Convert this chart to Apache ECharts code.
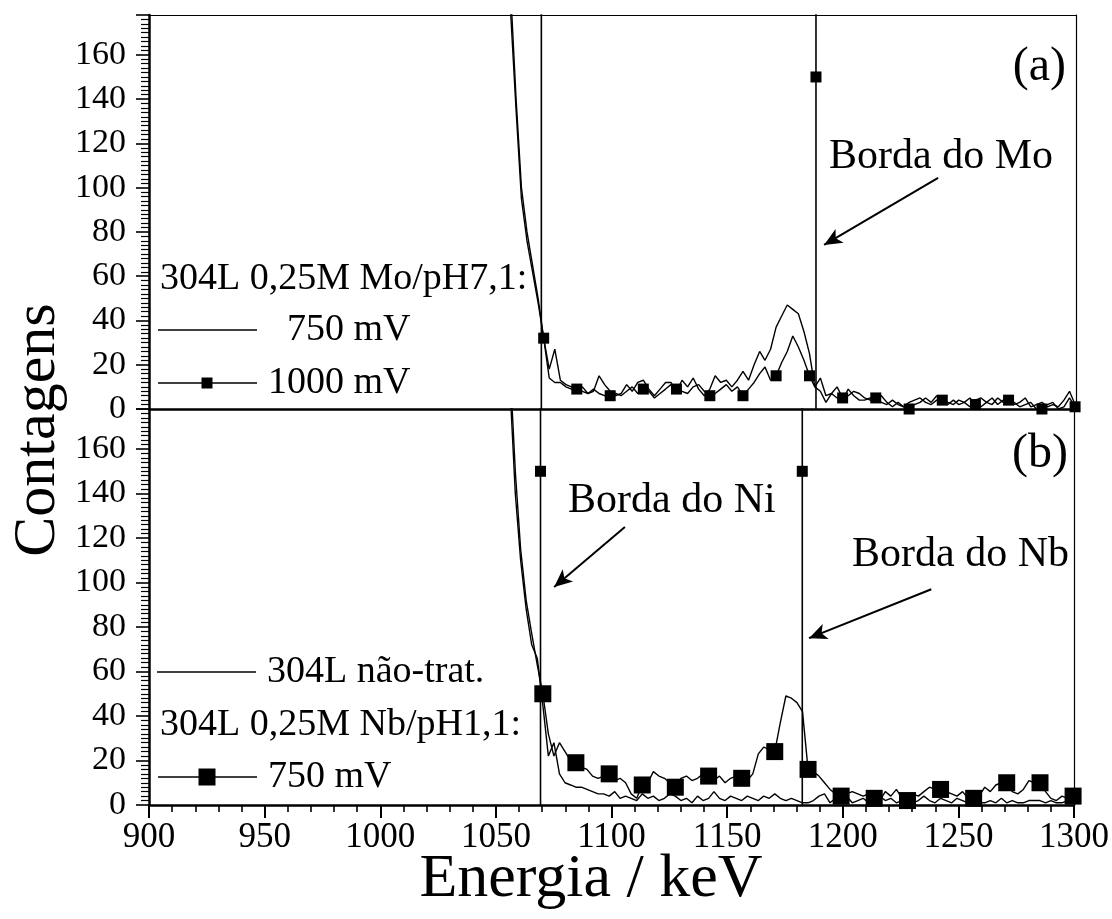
<!DOCTYPE html>
<html>
<head>
<meta charset="utf-8">
<title>Contagens x Energia</title>
<script src="https://cdn.jsdelivr.net/npm/echarts@6/dist/echarts.min.js"></script>
<style>
  html, body { margin: 0; padding: 0; background: #fff; }
  #chart { width: 1112px; height: 919px; }
</style>
</head>
<body>
<div id="chart"></div>
<script>
// Channel energies (keV) of the spectra
const energies = [
  1051.2, 1053.6, 1056.0, 1058.4, 1060.7, 1063.1, 1065.5, 1067.9, 1070.3, 1072.7,
  1075.1, 1077.5, 1079.9, 1082.3, 1084.6, 1087.0, 1089.4, 1091.8, 1094.2, 1096.6,
  1099.0, 1101.4, 1103.7, 1106.1, 1108.5, 1110.9, 1113.3, 1115.7, 1118.1, 1120.5,
  1122.9, 1125.2, 1127.6, 1130.0, 1132.4, 1134.8, 1137.2, 1139.6, 1142.0, 1144.3,
  1146.7, 1149.1, 1151.5, 1153.9, 1156.3, 1158.7, 1161.1, 1163.5, 1165.8, 1168.2,
  1170.6, 1173.0, 1175.4, 1177.8, 1180.2, 1182.6, 1185.0, 1187.3, 1189.7, 1192.1,
  1194.5, 1196.9, 1199.3, 1201.7, 1204.1, 1206.5, 1208.8, 1211.2, 1213.6, 1216.0,
  1218.4, 1220.8, 1223.2, 1225.6, 1228.0, 1230.3, 1232.7, 1235.1, 1237.5, 1239.9,
  1242.3, 1244.7, 1247.1, 1249.4, 1251.8, 1254.2, 1256.6, 1259.0, 1261.4, 1263.8,
  1266.2, 1268.6, 1270.9, 1273.3, 1275.7, 1278.1, 1280.5, 1282.9, 1285.3, 1287.7,
  1290.0, 1292.4, 1294.8, 1297.2, 1299.6
];

// (a) 304L 0,25M Mo/pH7,1 - 750 mV
const mo750 = [
  400, 300, 190, 140, 100, 80, 65, 50, 32, 18,
  27, 13, 11, 10, 8, 10, 7, 8, 15, 11,
  8, 6, 7, 11, 8, 12, 13, 9, 6, 9,
  12, 12, 8, 13, 10, 14, 9, 6, 9, 15,
  12, 13, 10, 13, 17, 13, 20, 26, 22, 27,
  37, 42, 47, 45, 43, 35, 25, 10, 8, 3,
  7, 5, 4, 9, 6, 4, 4, 5, 5, 6,
  3, 1, 3, 1, 3, 4, 5, 3, 2, 4,
  3, 2, 4, 2, 3, 1, 4, 5, 3, 5,
  2, 4, 3, 2, 3, 5, 1, 2, 3, 1,
  2, 1, 4, 8, 2
];

// (a) 304L 0,25M Mo/pH7,1 - 1000 mV
const mo1000 = [
  400, 280, 180, 135, 95, 76, 62, 48, 32, 14,
  12, 12, 10, 9, 9, 8, 7, 9, 7, 6,
  6, 7, 6, 8, 10, 7, 9, 8, 5, 7,
  9, 11, 9, 8, 7, 10, 11, 8, 6, 7,
  9, 11, 8, 10, 6, 9, 12, 16, 19, 13,
  15, 21, 26, 33, 28, 22, 15, 10, 14, 6,
  7, 10, 5, 6, 8, 7, 5, 4, 5, 3,
  2, 4, 2, 1, 0, 2, 3, 5, 3, 6,
  4, 3, 2, 4, 3, 5, 2, 1, 3, 2,
  5, 3, 4, 3, 1, 2, 3, 0, 0, 2,
  3, 0, 1, 5, 1
];

// (b) 304L não-tratado
const nbUntreated = [
  400, 300, 190, 140, 110, 88, 72, 66, 45, 22,
  28, 14, 10, 9, 8, 8, 7, 6, 5, 5,
  4, 6, 3, 4, 3, 2, 5, 3, 4, 2,
  3, 5, 4, 2, 3, 1, 4, 2, 3, 6,
  3, 2, 4, 3, 2, 4, 3, 2, 4, 3,
  5, 3, 2, 3, 2, 1, 1, 2, 4, 5,
  1, 3, 2, 4, 1, 2, 3, 1, 2, 4,
  2, 3, 1, 2, 3, 1, 2, 4, 2, 1,
  3, 2, 1, 3, 2, 1, 2, 1, 1, 2,
  1, 3, 1, 2, 1, 1, 2, 2, 2, 1,
  2, 1, 1, 2, 3
];

// (b) 304L 0,25M Nb/pH1,1 - 750 mV
const nb750 = [
  400, 330, 200, 150, 115, 92, 77, 63, 50, 32,
  22, 28, 24, 20, 19, 17, 16, 13, 12, 13,
  14, 11, 12, 10, 5, 3, 9, 10, 15, 13,
  12, 10, 8, 12, 13, 11, 12, 14, 13, 11,
  13, 10, 12, 13, 12, 11, 14, 23, 26, 25,
  24, 37, 49, 48, 46, 42, 16, 15, 13, 10,
  7, 5, 4, 5, 6, 5, 4, 5, 3, 2,
  6, 4, 7, 3, 2, 5, 4, 6, 8, 7,
  7, 6, 5, 4, 6, 3, 3, 4, 8, 6,
  9, 10, 10, 6, 5, 7, 11, 10, 10, 6,
  3, 2, 4, 3, 4
];

// Absorption edges (keV) and the count level where each edge line is marked
const edgeNames = ['Mo', 'Ni', 'Nb'];
const edgeEnergies = [1187.8, 1069.3, 1182.5];
const edgeMarkCount = [150, 150, 150];

// Axis ranges and ticks
const energyRange = [900, 1300];
const energyStep = 50;
const countRange = [0, 178];
const countStep = 20;

const FONT = '"Liberation Serif", "Times New Roman", serif';
const INK = '#000';

// Symbols are shown on every sixth channel
function markedLine(vals, every, offset) {
  return energies.map((e, i) => ({
    value: [e, vals[i]],
    symbol: (i % every === offset) ? 'rect' : 'none'
  }));
}
function plainLine(vals) {
  return energies.map((e, i) => [e, vals[i]]);
}
function edgeLine(k, withMark) {
  const e = edgeEnergies[k];
  const pts = [{ value: [e, 0], symbol: 'none' }];
  if (withMark) pts.push({ value: [e, edgeMarkCount[k]], symbol: 'rect' });
  pts.push({ value: [e, 1000], symbol: 'none' });
  return pts;
}

const baseLine = {
  type: 'line',
  silent: true,
  clip: true,
  showSymbol: true,
  showAllSymbol: true,
  symbol: 'rect',
  lineStyle: { color: INK, width: 1.4 },
  itemStyle: { color: INK },
  emphasis: { disabled: true },
  animation: false
};

function arrowMark(from, to) {
  return {
    silent: true,
    symbol: ['none', 'arrow'],
    symbolSize: [12, 18],
    lineStyle: { color: INK, width: 2, type: 'solid' },
    label: { show: false },
    emphasis: { disabled: true },
    animation: false,
    data: [[{ coord: from }, { coord: to }]]
  };
}

function xAxisFrame(grid, position, width) {
  return {
    gridIndex: grid, type: 'value', position: position,
    min: energyRange[0], max: energyRange[1], interval: energyStep,
    axisLine: { show: true, onZero: false, lineStyle: { color: INK, width: width } },
    axisTick: { show: false }, axisLabel: { show: false }, splitLine: { show: false }
  };
}
function yAxisLeft(grid) {
  return {
    gridIndex: grid, type: 'value', position: 'left',
    min: countRange[0], max: countRange[1], interval: countStep,
    axisLine: { show: true, onZero: false, lineStyle: { color: INK, width: 2.5 } },
    axisTick: { show: true, inside: false, length: 13, lineStyle: { color: INK, width: 1.6 } },
    minorTick: { show: true, splitNumber: 10, length: 8, lineStyle: { color: INK, width: 1.2 } },
    axisLabel: { show: true, margin: 23, color: INK, fontFamily: FONT, fontSize: 34, showMaxLabel: false },
    splitLine: { show: false }
  };
}
function yAxisRight(grid) {
  return {
    gridIndex: grid, type: 'value', position: 'right',
    min: countRange[0], max: countRange[1], interval: countStep,
    axisLine: { show: true, onZero: false, lineStyle: { color: INK, width: 1.2 } },
    axisTick: { show: false }, axisLabel: { show: false }, splitLine: { show: false }
  };
}

function label(text, x, y, size, align) {
  return {
    type: 'text', silent: true, z: 100,
    style: {
      text: text, x: x, y: y, fill: INK,
      font: size + 'px ' + FONT,
      textAlign: align || 'left', textVerticalAlign: 'middle'
    }
  };
}
function sampleLine(x1, x2, y) {
  return { type: 'line', silent: true, z: 100,
    shape: { x1: x1, y1: y, x2: x2, y2: y },
    style: { stroke: INK, lineWidth: 1.4 } };
}
function sampleSquare(cx, cy, s) {
  return { type: 'rect', silent: true, z: 100,
    shape: { x: cx - s / 2, y: cy - s / 2, width: s, height: s },
    style: { fill: INK } };
}

const chart = echarts.init(document.getElementById('chart'), null, { renderer: 'canvas' });

chart.setOption({
  animation: false,
  backgroundColor: '#fff',
  grid: [
    { left: 149, top: 15, width: 927, height: 394 },
    { left: 149, top: 409, width: 927, height: 396 }
  ],
  xAxis: [
    xAxisFrame(0, 'bottom', 2.5),
    xAxisFrame(0, 'top', 1.2),
    {
      gridIndex: 1, type: 'value', position: 'bottom',
      min: energyRange[0], max: energyRange[1], interval: energyStep,
      axisLine: { show: true, onZero: false, lineStyle: { color: INK, width: 2.5 } },
      axisTick: { show: true, inside: false, length: 13, lineStyle: { color: INK, width: 2 } },
      minorTick: { show: true, splitNumber: 5, length: 7, lineStyle: { color: INK, width: 1.6 } },
      axisLabel: { show: true, margin: 15, color: INK, fontFamily: FONT, fontSize: 35,
        formatter: (v) => String(v) },
      splitLine: { show: false }
    }
  ],
  yAxis: [yAxisLeft(0), yAxisRight(0), yAxisLeft(1), yAxisRight(1)],
  series: [
    // (a)
    Object.assign({}, baseLine, { name: '750 mV', xAxisIndex: 0, yAxisIndex: 0,
      symbol: 'none', data: plainLine(mo750) }),
    Object.assign({}, baseLine, { name: '1000 mV', xAxisIndex: 0, yAxisIndex: 0,
      symbolSize: 11, data: markedLine(mo1000, 6, 2) }),
    Object.assign({}, baseLine, { name: 'Borda do ' + edgeNames[0], xAxisIndex: 0, yAxisIndex: 0,
      symbolSize: 11, lineStyle: { color: INK, width: 1.6 }, data: edgeLine(0, true),
      markLine: arrowMark([1240.5, 104.4], [1191.3, 74.1]) }),
    Object.assign({}, baseLine, { name: 'Borda do ' + edgeNames[1] + ' (a)', xAxisIndex: 0, yAxisIndex: 0,
      lineStyle: { color: INK, width: 1.6 }, data: edgeLine(1, false) }),
    // (b)
    Object.assign({}, baseLine, { name: '304L não-trat.', xAxisIndex: 2, yAxisIndex: 2,
      symbol: 'none', data: plainLine(nbUntreated) }),
    Object.assign({}, baseLine, { name: '750 mV (Nb)', xAxisIndex: 2, yAxisIndex: 2,
      symbolSize: 17, data: markedLine(nb750, 6, 2) }),
    Object.assign({}, baseLine, { name: 'Borda do ' + edgeNames[1], xAxisIndex: 2, yAxisIndex: 2,
      symbolSize: 11, lineStyle: { color: INK, width: 1.6 }, data: edgeLine(1, true),
      markLine: arrowMark([1105.8, 125], [1075.2, 98]) }),
    Object.assign({}, baseLine, { name: 'Borda do ' + edgeNames[2], xAxisIndex: 2, yAxisIndex: 2,
      symbolSize: 11, lineStyle: { color: INK, width: 1.6 }, data: edgeLine(2, true),
      markLine: arrowMark([1238.3, 97], [1185.4, 75]) })
  ],
  graphic: [
    // panel (a) legend and notes
    label('304L 0,25M Mo/pH7,1:', 160, 279, 38),
    sampleLine(158, 257, 330),
    label('750 mV', 287, 330, 38),
    sampleLine(158, 257, 383),
    sampleSquare(207, 383, 11),
    label('1000 mV', 268, 383, 38),
    label('Borda do Mo', 829, 157, 42),
    label('(a)', 1066, 67, 48, 'right'),
    // panel (b) legend and notes
    sampleLine(157, 256, 672),
    label('304L não-trat.', 267, 672, 38),
    label('304L 0,25M Nb/pH1,1:', 160, 725, 38),
    sampleLine(158, 257, 777),
    sampleSquare(207, 777, 17),
    label('750 mV', 268, 777, 38),
    label('Borda do Ni', 568, 501, 42),
    label('Borda do Nb', 852, 555, 42),
    label('(b)', 1068, 454, 48, 'right'),
    // axis titles
    {
      type: 'text', silent: true, x: 38, y: 430, rotation: Math.PI / 2,
      style: { text: 'Contagens', x: 0, y: 0, fill: INK, font: '60px ' + FONT,
        textAlign: 'center', textVerticalAlign: 'middle' }
    },
    label('Energia / keV', 591, 880, 62, 'center')
  ]
});
</script>
</body>
</html>
